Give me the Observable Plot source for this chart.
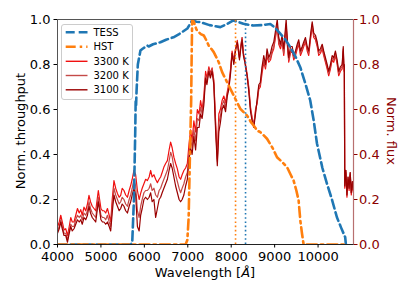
<!DOCTYPE html>
<html><head><meta charset="utf-8">
<script src="https://cdn.jsdelivr.net/npm/d3@7"></script>
<script src="https://cdn.jsdelivr.net/npm/@observablehq/plot@0.6"></script>
<style>body{margin:0;background:#fff}#chart{width:415px;height:297px}</style>
</head><body><div id="chart"></div>
<script>
// ---- data ----
const specWave = [4000,4040,4075,4110,4150,4190,4230,4270,4305,4340,4380,4420,4460,4500,4535,4570,4610,4650,4690,4725,4760,4800,4840,4880,4940,4970,5000,5035,5070,5110,5150,5190,5225,5260,5300,5340,5380,5420,5455,5490,5530,5570,5610,5650,5685,5720,5760,5800,5840,5880,5915,5950,5990,6030,6070,6110,6145,6180,6220,6260,6300,6340,6375,6410,6450,6490,6530,6570,6605,6640,6680,6720,6760,6800,6835,6870,6910,6950,6990,7030,7065,7100,7140,7180,7220,7260,7295,7330,7370,7410,7440,7485,7520,7560,7600,7640,7680,7715,7750,7790,7830,7870,7910,7945,7985,8020,8060,8100,8140,8190,8220,8250,8280,8315,8365,8405,8445,8480,8520,8560,8600,8635,8670,8710,8750,8790,8825,8865,8905,8940,8980,9020,9060,9095,9135,9170,9210,9240,9265,9295,9325,9365,9405,9440,9480,9520,9555,9595,9635,9670,9710,9750,9785,9825,9865,9900,9940,9980,10015,10055,10095,10130,10170,10210,10245,10285,10325,10360,10400,10440,10475,10515,10555,10580,10595,10605,10615,10640,10665,10690,10715,10740,10765,10790,10815];
const flux3300 = [.077,.10,.13,.10,.065,.07,.04,.08,.12,.10,.10,.13,.16,.14,.155,.13,.166,.15,.18,.218,.19,.17,.16,.15,.24,.20,.16,.15,.15,.14,.16,.13,.10,.20,.284,.25,.227,.21,.218,.25,.24,.22,.21,.24,.262,.29,.329,.31,.24,.20,.227,.25,.27,.29,.284,.30,.329,.30,.31,.29,.275,.29,.30,.32,.344,.36,.373,.42,.455,.43,.388,.36,.336,.30,.29,.31,.329,.34,.36,.45,.51,.46,.55,.50,.60,.58,.64,.60,.66,.77,.74,.79,.76,.785,.73,.55,.38,.58,.60,.64,.66,.63,.68,.714,.78,.86,.818,.87,.907,.83,.88,.92,.85,.818,.76,.70,.61,.566,.53,.60,.63,.69,.70,.76,.81,.78,.84,.81,.82,.85,.87,.92,.97,.89,.87,.90,.84,.91,.97,.88,.81,.85,.86,.82,.84,.87,.89,.84,.86,.88,.90,.86,.84,.91,.97,.92,.91,.88,.84,.85,.87,.84,.81,.78,.75,.78,.82,.81,.84,.80,.75,.77,.78,.86,.77,.78,.25,.32,.21,.29,.24,.31,.22,.27,.23];
const flux3200 = [.06,.08,.11,.08,.05,.05,.02,.06,.09,.08,.08,.11,.13,.12,.13,.11,.14,.13,.15,.19,.16,.14,.13,.12,.21,.17,.13,.12,.12,.11,.13,.10,.08,.17,.25,.22,.20,.18,.19,.21,.20,.18,.17,.20,.22,.25,.29,.26,.15,.12,.17,.20,.23,.24,.24,.25,.27,.24,.25,.22,.21,.24,.25,.27,.29,.31,.33,.37,.41,.39,.34,.31,.28,.25,.23,.25,.27,.30,.32,.41,.47,.43,.51,.46,.56,.55,.61,.58,.64,.75,.72,.78,.75,.78,.72,.53,.37,.54,.57,.62,.64,.61,.67,.70,.77,.85,.81,.87,.90,.83,.88,.92,.85,.81,.75,.69,.60,.56,.53,.59,.64,.70,.71,.78,.82,.79,.85,.82,.83,.86,.88,.93,.98,.90,.88,.91,.85,.92,.98,.89,.82,.86,.87,.83,.85,.88,.90,.85,.87,.89,.91,.87,.85,.92,.98,.93,.92,.89,.85,.86,.88,.85,.82,.79,.76,.79,.83,.82,.85,.81,.76,.78,.79,.87,.78,.79,.26,.33,.22,.30,.25,.32,.23,.28,.24];
const flux3100 = [.05,.07,.10,.07,.04,.04,.01,.05,.08,.06,.07,.09,.11,.10,.11,.09,.12,.11,.13,.17,.14,.12,.11,.10,.19,.15,.11,.10,.10,.09,.10,.08,.06,.14,.22,.19,.17,.15,.16,.18,.17,.15,.14,.17,.19,.22,.25,.22,.08,.06,.13,.16,.20,.21,.20,.21,.23,.19,.20,.12,.16,.20,.21,.23,.25,.27,.29,.33,.36,.34,.30,.26,.23,.20,.19,.20,.22,.26,.29,.38,.43,.40,.48,.42,.52,.52,.58,.56,.62,.74,.71,.77,.74,.77,.71,.51,.35,.50,.54,.60,.62,.59,.66,.69,.76,.85,.80,.86,.90,.82,.87,.91,.84,.81,.75,.68,.59,.55,.52,.58,.65,.71,.72,.79,.84,.80,.87,.83,.85,.88,.90,.95,1.0,.92,.89,.93,.87,.94,1.0,.90,.83,.88,.88,.84,.86,.89,.91,.86,.88,.90,.92,.88,.86,.93,.99,.94,.93,.90,.86,.87,.89,.86,.83,.80,.77,.80,.84,.83,.86,.82,.77,.79,.80,.88,.79,.80,.26,.33,.22,.30,.25,.32,.23,.28,.24];
const tessWave = [4000,5680,5720,5760,5790,5800,5810,5820,5850,5910,5960,6000,6070,6100,6200,6370,6500,6670,6800,6990,7100,7200,7290,7500,7750,7900,8050,8150,8280,8510,8700,8900,9000,9130,9250,9360,9480,9590,9700,9820,9900,9975,10100,10205,10320,10434,10530,10625,10641];
const tessThru = [0,0,0.005,0.2,0.5,0.64,0.62,0.68,0.8,0.862,0.87,0.875,0.884,0.88,0.89,0.899,0.91,0.921,0.935,0.96,0.996,0.99,0.988,0.975,0.966,0.98,0.996,0.99,0.981,0.973,0.975,0.98,0.965,0.937,0.91,0.877,0.835,0.788,0.72,0.64,0.55,0.449,0.34,0.27,0.2,0.121,0.075,0.032,0];
const hstWave = [4000,6950,6990,7020,7050,7078,7090,7101,7138,7200,7253,7300,7368,7420,7483,7540,7598,7650,7713,7791,7906,8057,8211,8300,8366,8450,8517,8595,8671,8750,8825,8950,9055,9180,9285,9370,9437,9500,9552,9591,9630,9667,10600];
const hstThru = [0,0,0.02,0.12,0.4,0.64,0.85,1.0,0.99,0.955,0.944,0.935,0.929,0.91,0.884,0.87,0.855,0.835,0.81,0.766,0.721,0.662,0.603,0.585,0.573,0.545,0.529,0.507,0.499,0.485,0.47,0.43,0.388,0.365,0.344,0.31,0.284,0.24,0.196,0.107,0.049,0,0];
const pivotWave = [8100, 8330];
const pivotBand = ["HST", "TESS"];
const seriesNames = ["3300 K", "3200 K", "3100 K"];
const seriesColors = ["#f01010", "#c44a48", "#9a0000"];
const bandColors = {TESS: "#1f77b4", HST: "#ff7f0e"};
const xTicks = [4000,5000,6000,7000,8000,9000,10000];
const yTicks = [0,0.2,0.4,0.6,0.8,1.0];
const xDomain = [4000, 10816];

// ---- tables ----
const spec = [];
[flux3300, flux3200, flux3100].forEach((f, s) => f.forEach((v, i) => spec.push({w: specWave[i], f: v, k: seriesNames[s]})));
const tess = tessWave.map((w, i) => ({w, t: tessThru[i]}));
const hst = hstWave.map((w, i) => ({w, t: hstThru[i]}));
const piv = pivotWave.map((w, i) => ({w, band: pivotBand[i]}));

const font = "DejaVu Sans, sans-serif";
const chart = Plot.plot({
  width: 415, height: 297,
  marginLeft: 57, marginRight: 62, marginTop: 19, marginBottom: 53,
  style: {fontFamily: font, fontSize: "13px", background: "white", color: "black"},
  x: {domain: xDomain},
  y: {domain: [0, 1]},
  color: {type: "ordinal", domain: seriesNames, range: seriesColors},
  marks: [
    Plot.line(spec, {x: "w", y: "f", z: "k", stroke: "k", strokeWidth: 1.2, clip: true}),
    Plot.line(tess, {x: "w", y: "t", stroke: bandColors.TESS, strokeWidth: 2.6, strokeDasharray: "9,4", clip: true}),
    Plot.line(hst, {x: "w", y: "t", stroke: bandColors.HST, strokeWidth: 2.6, strokeDasharray: "10,4,2.5,4", clip: true}),
    Plot.ruleX(piv, {x: "w", y1: 0, y2: 1, stroke: d => bandColors[d.band], strokeWidth: 1.6, strokeDasharray: "1.6,2.6"}),
    Plot.frame({stroke: "#555", strokeWidth: 1}),
    Plot.ruleX([xDomain[1]], {stroke: "#b87070", strokeWidth: 1.2}),
    Plot.ruleY([0], {stroke: "#222", strokeWidth: 1.2}),
    Plot.axisX(xTicks, {tickSize: 3.5, tickPadding: 3.5, tickFormat: d => String(d), label: null}),
    Plot.axisY(yTicks, {anchor: "left", tickSize: 3.5, tickPadding: 3.5, tickFormat: d => d.toFixed(1), label: null}),
    Plot.axisY(yTicks, {anchor: "right", color: "#8b0000", tickSize: 3.5, tickPadding: 2, tickFormat: d => d.toFixed(1), label: null})
  ]
});
document.getElementById("chart").appendChild(chart);

// ---- titles & legend ----
const svg = d3.select(chart);
const xl = svg.append("text").attr("x", 205).attr("y", 277).attr("text-anchor", "middle")
  .attr("font-family", font).attr("font-size", 13).attr("fill", "black");
xl.append("tspan").text("Wavelength [");
xl.append("tspan").attr("font-style", "italic").text("Å");
xl.append("tspan").text("]");
svg.append("text").attr("transform", "translate(24.5,131) rotate(-90)").attr("text-anchor", "middle")
  .attr("font-family", font).attr("font-size", 13).attr("fill", "black").text("Norm. throughput");
svg.append("text").attr("transform", "translate(387,131) rotate(90)").attr("text-anchor", "middle")
  .attr("font-family", font).attr("font-size", 13).attr("fill", "#8b0000").text("Norm. flux");

const lg = svg.append("g");
lg.append("rect").attr("x", 61.5).attr("y", 24.5).attr("width", 71).attr("height", 75).attr("rx", 2.5)
  .attr("fill", "white").attr("fill-opacity", 0.85).attr("stroke", "#cccccc").attr("stroke-width", 1);
const items = [
  {label: "TESS", color: bandColors.TESS, w: 2.6, dash: "9,4"},
  {label: "HST", color: bandColors.HST, w: 2.6, dash: "10,4,2.5,4"},
  ...seriesNames.map((n, i) => ({label: n, color: seriesColors[i], w: 1.4, dash: null}))
];
const rowY = [32.3, 46.7, 61.3, 75.5, 89.8];
items.forEach((it, i) => {
  const l = lg.append("line").attr("x1", 65.7).attr("x2", 87.5).attr("y1", rowY[i]).attr("y2", rowY[i])
    .attr("stroke", it.color).attr("stroke-width", it.w);
  if (it.dash) l.attr("stroke-dasharray", it.dash);
  lg.append("text").attr("x", 93.5).attr("y", rowY[i] + 3.6).attr("text-anchor", "start")
    .attr("font-family", font).attr("font-size", 10).attr("fill", "black").text(it.label);
});
</script></body></html>
